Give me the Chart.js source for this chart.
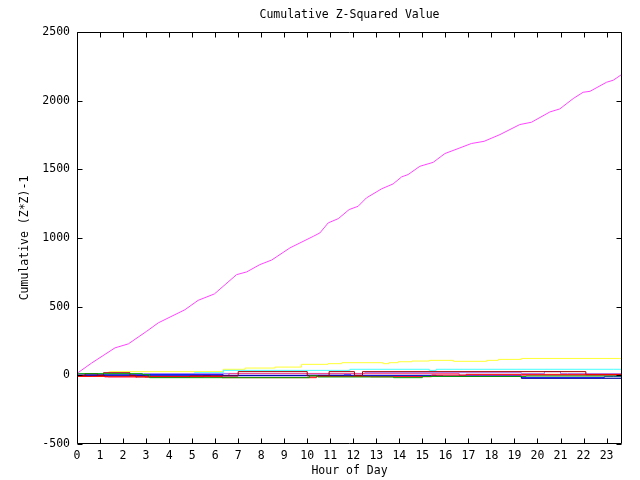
<!DOCTYPE html>
<html>
<head>
<meta charset="utf-8">
<script src="https://cdn.jsdelivr.net/npm/chart.js"></script>
<style>
  html, body { margin: 0; padding: 0; background: #fff; }
  #wrap { width: 640px; height: 480px; position: relative; }
</style>
</head>
<body>
<div id="wrap"><canvas id="myChart"></canvas></div>
<script>
// axis ticks
const hourTicks = [0,1,2,3,4,5,6,7,8,9,10,11,12,13,14,15,16,17,18,19,20,21,22,23];
const valueTicks = [-500, 0, 500, 1000, 1500, 2000, 2500];

// the big one
const pinkHours = [0, 0.05, 0.64, 1.65, 2.23, 3.02, 3.53, 4.69, 5.26, 5.97, 6.93, 7.37, 7.94, 8.46, 9.25, 10.26, 10.55, 10.91, 11.35, 11.82, 12.21, 12.57, 13.23, 13.73, 14.1, 14.38, 14.89, 15.47, 15.98, 16.55, 17.13, 17.68, 18.37, 19.23, 19.74, 20.54, 20.97, 21.55, 21.98, 22.28, 23.0, 23.29, 23.67];
const pinkValues = [0, 20, 90, 200, 229, 320, 382, 478, 546, 593, 733, 753, 806, 840, 928, 1012, 1037, 1110, 1141, 1207, 1231, 1292, 1358, 1394, 1445, 1462, 1522, 1551, 1615, 1651, 1688, 1704, 1753, 1826, 1843, 1918, 1940, 2015, 2061, 2068, 2134, 2149, 2192];

// the ones hugging zero
const yellowHours = [0, 0.6, 1.4, 6.35, 7.3, 8.6, 9.75, 10.9, 11.5, 13.3, 13.55, 13.95, 14.55, 15.3, 16.35, 17.8, 18.3, 19.3, 23.5, 23.67];
const yellowValues = [0, -3, 7, 27, 44, 53, 60, 80, 85, 92, 85, 92, 99, 104, 109, 102, 109, 116, 123, 123];
const cyanHours = [0, 0.45, 0.9, 1.1, 1.55, 5.1, 6.35, 11.85, 15.3, 15.6, 23.3, 23.67];
const cyanValues = [0, 12, 5, 12, 5, 10, 19, 36, 44, 36, 44, 44];
const violetHours = [0, 2.9, 6.35, 12.5, 19.3, 20.3, 21.0, 21.3, 23.67];
const violetValues = [0, 7, 12, 14, 19, 12, 27, 12, 12];
const hotpinkHours = [0, 0.6, 1.2, 2.6, 2.95, 5.5, 5.8, 6.3, 6.6, 16.6, 17.5, 23.67];
const hotpinkValues = [-5, -5, 0, -12, -3, -12, -3, -12, 0, 12, 0, 0];
const blueHours = [0, 0.35, 3.1, 6.35, 11.6, 11.9, 15.6, 19.3, 22.9, 23.3, 23.67];
const blueValues = [12, 0, 3, 5, 0, 3, 0, -5, -17, -10, -10];
const darkblueHours = [0, 10, 11.9, 15.9, 19.3, 22.8, 23.67];
const darkblueValues = [0, -3, 0, -5, -8, -22, -22];
const redHours = [0, 1.35, 6.3, 10.4, 12.75, 15.4, 16.9, 19.3, 23.67];
const redValues = [0, -8, -10, -17, -8, -10, 2, 7, 7];
const darkredHours = [0, 0.35, 0.9, 1.15, 2.3, 2.55, 4.9, 7, 10, 10.95, 12.05, 12.4, 22.1, 22.45, 23.67];
const darkredValues = [-5, 0, 12, 0, 19, 0, -12, -5, 27, -5, 27, 0, 27, 5, 5];
const greenHours = [0, 2.85, 3.15, 10.1, 10.45, 13.75, 15.0, 19.5, 23.67];
const greenValues = [0, 12, 5, -17, -3, -12, -17, -8, -5];

function pts(hours, values) {
  return hours.map((h, i) => ({x: h, y: values[i]}));
}

function series(hours, values, color, stepped) {
  return {
    data: pts(hours, values),
    borderColor: color,
    borderWidth: 1,
    pointRadius: 0,
    tension: 0,
    stepped: stepped ? 'after' : false,
  };
}

const FONT = '11.5px "DejaVu Sans Mono", monospace';

// gnuplot-ish frame: border, inward ticks, labels
const frame = {
  id: 'frame',
  afterDraw(chart) {
    const {ctx, chartArea: a, scales: {x, y}} = chart;
    const L = Math.round(a.left) + 0.5, R = Math.round(a.right) - 0.5;
    const T = Math.round(a.top) + 0.5, B = Math.round(a.bottom) - 0.5;
    ctx.save();
    ctx.strokeStyle = '#000';
    ctx.lineWidth = 1;
    ctx.beginPath();
    ctx.rect(L, T, R - L, B - T);
    hourTicks.forEach(h => {
      const px = Math.round(x.getPixelForValue(h)) + 0.5;
      ctx.moveTo(px, B); ctx.lineTo(px, B - 5);
      ctx.moveTo(px, T); ctx.lineTo(px, T + 5);
    });
    valueTicks.forEach(v => {
      const py = Math.round(y.getPixelForValue(v)) + 0.5;
      ctx.moveTo(L, py); ctx.lineTo(L + 5, py);
      ctx.moveTo(R, py); ctx.lineTo(R - 5, py);
    });
    ctx.stroke();

    ctx.fillStyle = '#000';
    ctx.font = FONT;
    ctx.textBaseline = 'middle';
    ctx.textAlign = 'right';
    valueTicks.forEach(v => ctx.fillText(String(v), 70, y.getPixelForValue(v)));
    ctx.textAlign = 'center';
    hourTicks.forEach(h => ctx.fillText(String(h), x.getPixelForValue(h), 456));

    const mid = (a.left + a.right) / 2;
    ctx.fillText('Cumulative Z-Squared Value', mid, 15);
    ctx.fillText('Hour of Day', mid, 471);
    ctx.translate(25, (a.top + a.bottom) / 2);
    ctx.rotate(-Math.PI / 2);
    ctx.fillText('Cumulative (Z*Z)-1', 0, 0);
    ctx.restore();
  }
};

new Chart(document.getElementById('myChart'), {
  type: 'line',
  data: {
    datasets: [
      series(pinkHours, pinkValues, '#ff44ff', false),
      series(greenHours, greenValues, '#00a000', true),
      series(redHours, redValues, '#ff0000', true),
      series(darkredHours, darkredValues, '#a00000', true),
      series(darkblueHours, darkblueValues, '#0000a0', true),
      series(blueHours, blueValues, '#0000ff', true),
      series(hotpinkHours, hotpinkValues, '#ff4080', true),
      series(violetHours, violetValues, '#a070ff', true),
      series(cyanHours, cyanValues, '#44ffff', true),
      series(yellowHours, yellowValues, '#ffff33', true),
    ]
  },
  options: {
    responsive: true,
    maintainAspectRatio: false,
    animation: false,
    layout: { padding: { left: 77, right: 18, top: 32, bottom: 36 } },
    plugins: { legend: { display: false }, tooltip: { enabled: false } },
    scales: {
      x: { type: 'linear', min: 0, max: 23.67, display: false },
      y: { min: -500, max: 2500, display: false }
    }
  },
  plugins: [frame]
});
</script>
</body>
</html>
